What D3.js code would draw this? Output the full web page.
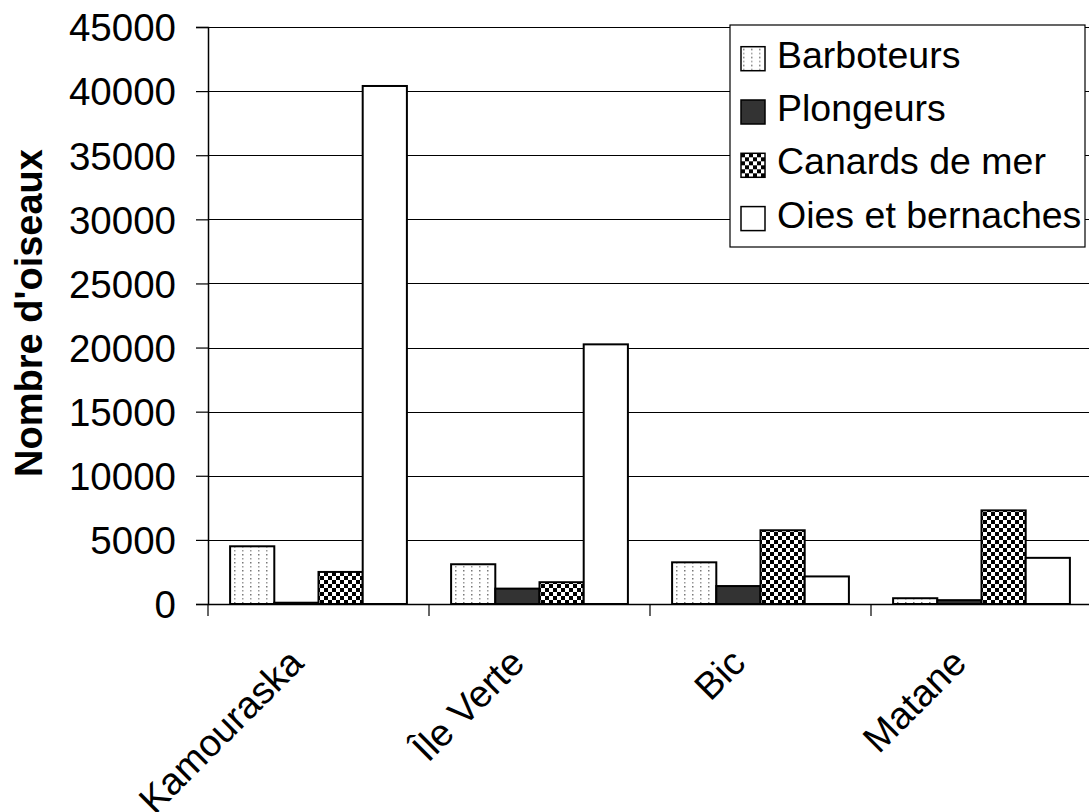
<!DOCTYPE html>
<html>
<head>
<meta charset="utf-8">
<script src="https://cdn.jsdelivr.net/npm/d3@7"></script>
<style>
html,body{margin:0;padding:0;background:#fff;}
svg{display:block;font-family:"Liberation Sans",Arial,sans-serif;}
</style>
</head>
<body>
<svg id="chart" width="1089" height="812"></svg>
<script>
const categories = ["Kamouraska", "Île Verte", "Bic", "Matane"];
const seriesNames = ["Barboteurs", "Plongeurs", "Canards de mer", "Oies et bernaches"];
const barboteurs = [4500, 3100, 3250, 450];
const plongeurs = [100, 1200, 1400, 300];
const canards = [2500, 1700, 5750, 7300];
const oies = [40400, 20250, 2150, 3600];
const yTicks = [0, 5000, 10000, 15000, 20000, 25000, 30000, 35000, 40000, 45000];
const yTitle = "Nombre d'oiseaux";

(function () {
const seriesValues = [barboteurs, plongeurs, canards, oies];
const fills = ["url(#pDots)", "#333333", "url(#pCheck)", "#ffffff"];

const svg = d3.select("#chart");
const defs = svg.append("defs");

// dotted pattern
const pd = defs.append("pattern").attr("id", "pDots").attr("patternUnits", "userSpaceOnUse")
  .attr("width", 8).attr("height", 8);
pd.append("rect").attr("width", 8).attr("height", 8).attr("fill", "#fff");
pd.append("rect").attr("x", 2).attr("y", 2).attr("width", 1.5).attr("height", 1.5).attr("fill", "#777");
pd.append("rect").attr("x", 2).attr("y", 6).attr("width", 1.5).attr("height", 1.5).attr("fill", "#999");

// checkerboard pattern
const pc = defs.append("pattern").attr("id", "pCheck").attr("patternUnits", "userSpaceOnUse")
  .attr("width", 8).attr("height", 8);
pc.append("rect").attr("width", 8).attr("height", 8).attr("fill", "#fff");
pc.append("rect").attr("x", 0).attr("y", 0).attr("width", 4).attr("height", 4).attr("fill", "#000");
pc.append("rect").attr("x", 4).attr("y", 4).attr("width", 4).attr("height", 4).attr("fill", "#000");

const pLeft = 208, pRight = 1092, pTop = 27, pBottom = 604;

const y = d3.scaleLinear().domain([0, 45000]).range([pBottom, pTop]);
const x0 = d3.scaleBand().domain(categories).range([pLeft, pRight]).padding(0);
const x1 = d3.scaleBand().domain(seriesNames).range([0, x0.bandwidth()]).paddingInner(0).paddingOuter(0.5);

// gridlines
svg.append("g").selectAll("line").data(yTicks.filter(d => d > 0)).join("line")
  .attr("x1", pLeft).attr("x2", pRight)
  .attr("y1", d => Math.round(y(d)) + 0.5).attr("y2", d => Math.round(y(d)) + 0.5)
  .attr("stroke", "#000").attr("stroke-width", 1.2);

// y axis
const yAxis = d3.axisLeft(y).tickValues(yTicks).tickSize(12).tickPadding(20).tickFormat(d3.format("d"));
const gy = svg.append("g").attr("transform", `translate(${pLeft},0)`).call(yAxis);
gy.select(".domain").attr("stroke", "#000").attr("stroke-width", 1.5);
gy.selectAll(".tick line").attr("stroke", "#000").attr("stroke-width", 1.2);
gy.selectAll(".tick text").attr("font-size", 38.5).attr("fill", "#000")
  .attr("font-family", "'Liberation Sans', Arial, sans-serif").attr("dy", "0.36em");

// bars
const groups = svg.append("g").selectAll("g").data(categories).join("g")
  .attr("transform", d => `translate(${x0(d)},0)`);
groups.selectAll("rect").data((c, ci) => seriesNames.map((s, si) => ({s, si, v: seriesValues[si][ci]}))).join("rect")
  .attr("x", d => x1(d.s))
  .attr("width", x1.bandwidth())
  .attr("y", d => y(d.v))
  .attr("height", d => y(0) - y(d.v))
  .attr("fill", d => fills[d.si])
  .attr("stroke", "#000").attr("stroke-width", 2);

// x axis
const xAxis = d3.axisBottom(x0).tickSize(0).tickFormat("");
const gx = svg.append("g").attr("transform", `translate(0,${pBottom})`).call(xAxis);
gx.select(".domain").attr("stroke", "#000").attr("stroke-width", 1.5);
// category separator ticks
const sepScale = d3.scaleLinear().domain([0, categories.length]).range([pLeft, pRight]);
svg.append("g").selectAll("line").data(d3.range(categories.length + 1)).join("line")
  .attr("x1", d => sepScale(d)).attr("x2", d => sepScale(d))
  .attr("y1", pBottom).attr("y2", pBottom + 12)
  .attr("stroke", "#000").attr("stroke-width", 1.2);

// category labels
svg.append("g").selectAll("text").data(categories).join("text")
  .attr("transform", d => `translate(${x0(d) + x0.bandwidth() / 2 - 13},${pBottom + 61}) rotate(-45)`)
  .attr("text-anchor", "end")
  .attr("font-size", 38).attr("fill", "#000")
  .text(d => d);

// y title
svg.append("text")
  .attr("transform", `translate(42,313) rotate(-90)`)
  .attr("text-anchor", "middle")
  .attr("font-size", 38).attr("font-weight", "bold").attr("fill", "#000")
  .text(yTitle);

// legend
const lg = svg.append("g").attr("transform", "translate(730,25)");
lg.append("rect").attr("width", 355).attr("height", 222).attr("fill", "#fff")
  .attr("stroke", "#000").attr("stroke-width", 1.2);
const items = lg.selectAll("g.item").data(seriesNames).join("g").attr("class", "item")
  .attr("transform", (d, i) => `translate(11,${21.7 + i * 53.3})`);
items.append("rect").attr("width", 24).attr("height", 24)
  .attr("fill", (d, i) => fills[i]).attr("stroke", "#000").attr("stroke-width", 1.5);
items.append("text").attr("x", 36).attr("y", 21)
  .attr("font-size", 37.5).attr("fill", "#000").text(d => d);
})();
</script>
</body>
</html>
